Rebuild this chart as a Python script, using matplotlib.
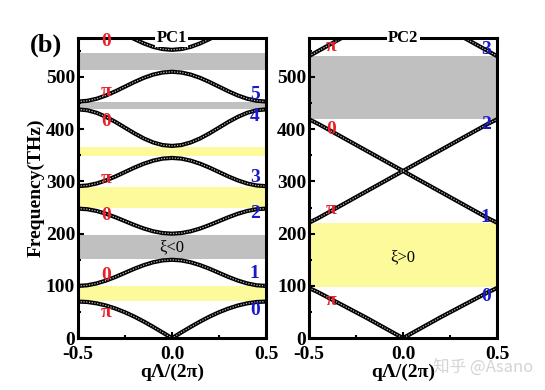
import matplotlib
matplotlib.use("Agg")
import matplotlib.pyplot as plt
from matplotlib.ticker import MultipleLocator

plt.rcParams['font.family'] = ['Liberation Serif', 'DejaVu Serif']

# q from 0 to 0.5 (bands are symmetric in q)
q_half = [0.0, 0.05, 0.10, 0.15, 0.20, 0.25, 0.30, 0.35, 0.40, 0.45, 0.50]

# PC1 bands, frequency in THz
pc1_bands = [
    [0, 10.9, 21.6, 31.8, 41.2, 49.5, 56.6, 62.4, 66.6, 69.2, 70],
    [150, 148.8, 145.2, 139.7, 132.8, 125, 117.2, 110.3, 104.8, 101.2, 100],
    [200, 201.2, 204.6, 209.9, 216.6, 224, 231.4, 238.1, 243.4, 246.8, 248],
    [345, 343.7, 339.8, 333.9, 326.4, 318, 309.6, 302.1, 296.1, 292.3, 291],
    [368, 369.7, 374.7, 382.4, 392.2, 403, 413.9, 423.6, 431.4, 436.3, 438],
    [510, 508.6, 504.6, 498.3, 490.3, 481.5, 472.7, 464.7, 458.4, 454.4, 453],
    [552, 553.5, 557.7, 564.4, 572.7, 582, 591.3, 599.6, 606.3, 610.6, 612],
]
pc1_gap_lo = [71, 151, 249, 348, 438, 514]
pc1_gap_hi = [100, 198, 289, 366, 452, 546]
pc1_gap_sign = ['+', '-', '+', '+', '-', '-']

# PC2 bands
pc2_bands = [
    [0, 10, 20, 30, 40, 49.5, 59, 68.5, 78, 87.5, 96],
    [320, 310, 300, 290, 280, 270, 260, 250, 240, 230, 221],
    [320, 330, 340, 350, 360, 370, 380, 390, 400, 410, 419],
    [640, 630, 620, 610, 600, 590, 580, 570, 560, 550, 540],
]
pc2_gap_lo = [97, 420]
pc2_gap_hi = [220, 540]
pc2_gap_sign = ['+', '-']

# Zak phase labels (left, red) and band numbers (right, blue)
pc1_zak = ['0', 'π', '0', 'π', '0', '0', 'π']
pc1_zak_f = [568, 472, 415, 305, 234, 120, 50]
pc1_num = ['5', '4', '3', '2', '1', '0']
pc1_num_f = [467, 425, 307, 238, 124, 53]

pc2_zak = ['π', '0', 'π', 'π']
pc2_zak_f = [558, 400, 246, 73]
pc2_num = ['3', '2', '1', '0']
pc2_num_f = [552, 410, 231, 79]

q_full = [-v for v in q_half[::-1]] + q_half[1:]


def mirror(vals):
    return vals[::-1] + vals[1:]


fig = plt.figure(figsize=(5.45, 3.9), dpi=100)
ax1 = fig.add_axes([0.143, 0.133, 0.345, 0.77])
ax2 = fig.add_axes([0.567, 0.133, 0.345, 0.77])

gap_color = {'+': '#fdfa9c', '-': '#c0c0c0'}


def draw_panel(ax, bands, lo, hi, sign, zak, zak_f, zak_x, num, num_f, title):
    for a, b, s in zip(lo, hi, sign):
        ax.axhspan(a, b, color=gap_color[s], lw=0, zorder=1)
    for band in bands:
        f = mirror(band)
        ax.plot(q_full, f, color='black', lw=3.0, zorder=3, solid_capstyle='butt')
        ax.plot(q_full, f, color='#bdbdbd', lw=0.9, ls=(0, (1, 1.2)), zorder=4)
    for t, y in zip(zak, zak_f):
        ax.text(zak_x, y, t, color='#e8202a', fontsize=14, fontweight='bold',
                ha='center', va='center', zorder=6, clip_on=False)
    for t, y in zip(num, num_f):
        ax.text(0.44, y, t, color='#1a1acc', fontsize=14, fontweight='bold',
                ha='center', va='center', zorder=6)
    ax.text(0.5, 1.0, title, transform=ax.transAxes, fontsize=12, fontweight='bold',
            ha='center', va='center', zorder=7,
            bbox=dict(facecolor='white', edgecolor='none', pad=1.0))
    ax.set_xlim(-0.5, 0.5)
    ax.set_ylim(0, 575)
    ax.xaxis.set_minor_locator(MultipleLocator(0.25))
    ax.yaxis.set_major_locator(MultipleLocator(100))
    ax.yaxis.set_minor_locator(MultipleLocator(50))
    ax.set_xticks([-0.5, 0.0, 0.5])
    ax.set_xticklabels(['-0.5', '0.0', '0.5'])
    ax.tick_params(which='both', direction='in', top=False, right=False,
                   labelsize=14, width=1.5, pad=2)
    ax.tick_params(axis='x', which='major', pad=6)
    ax.tick_params(which='major', length=4)
    ax.tick_params(which='minor', length=2.5)
    for lab in ax.get_xticklabels() + ax.get_yticklabels():
        lab.set_fontweight('bold')
    for sp in ax.spines.values():
        sp.set_linewidth(2.2)
        sp.set_zorder(5)
    ax.set_xlabel('qΛ/(2π)', fontsize=14, fontweight='bold', labelpad=0)


draw_panel(ax1, pc1_bands, pc1_gap_lo, pc1_gap_hi, pc1_gap_sign,
           pc1_zak, pc1_zak_f, -0.35, pc1_num, pc1_num_f, 'PC1')
draw_panel(ax2, pc2_bands, pc2_gap_lo, pc2_gap_hi, pc2_gap_sign,
           pc2_zak, pc2_zak_f, -0.38, pc2_num, pc2_num_f, 'PC2')

ax1.text(0.0, 174, 'ξ<0', fontsize=12, ha='center', va='center', zorder=6)
ax2.text(0.0, 155, 'ξ>0', fontsize=12, ha='center', va='center', zorder=6)

ax1.set_ylabel('Frequency(THz)', fontsize=14, fontweight='bold', labelpad=1)

fig.text(0.085, 0.885, '(b)', fontsize=19, fontweight='bold', ha='center', va='center')
fig.text(0.795, 0.058, '知乎 @Asano', fontsize=12, color='#d4d4d4', ha='left', va='center',
         family=['Noto Sans CJK SC', 'DejaVu Sans'], zorder=0)

fig.savefig('out.png', dpi=100)
